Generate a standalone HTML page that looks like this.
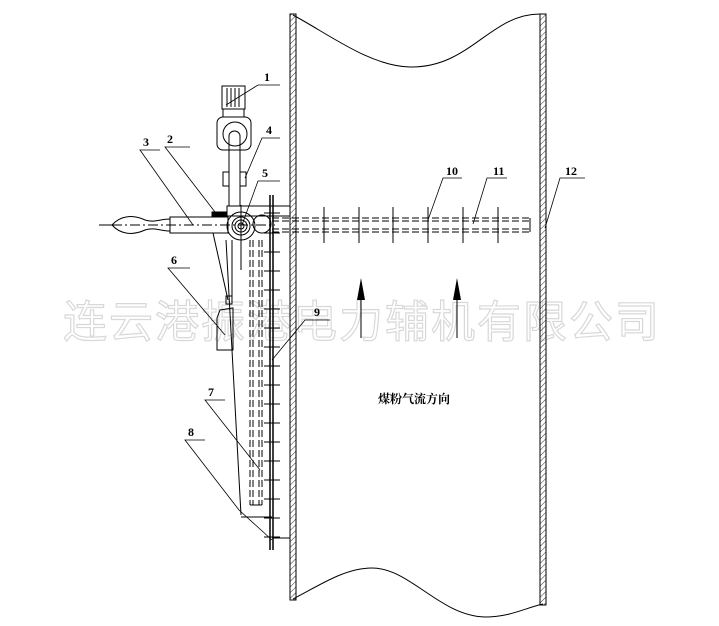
<!DOCTYPE html>
<html><head><meta charset="utf-8"><style>
html,body{margin:0;padding:0;background:#fff;}
svg{display:block;}
.l{font-family:"Liberation Serif",serif;font-weight:bold;font-size:12px;fill:#000;}
</style></head><body>
<svg width="719" height="626" viewBox="0 0 719 626" xmlns="http://www.w3.org/2000/svg">
<defs>
<pattern id="h" width="4" height="4" patternUnits="userSpaceOnUse" patternTransform="rotate(45)">
<line x1="0" y1="0" x2="0" y2="4" stroke="#000" stroke-width="0.8"/>
</pattern>
</defs>
<text x="362" y="337" text-anchor="middle" font-family="'Noto Sans CJK SC',sans-serif" font-size="44" fill="#fff" stroke="#d8d8d8" stroke-width="1.2" letter-spacing="2">连云港振港电力辅机有限公司</text>

<!-- walls -->
<rect x="290" y="14" width="6" height="586" fill="url(#h)" stroke="#000" stroke-width="1"/>
<rect x="540" y="14" width="6" height="591" fill="url(#h)" stroke="#000" stroke-width="1"/>
<path d="M293,15 C330,35 370,66 410,67 C470,68 490,14 540,14" fill="none" stroke="#000"/>
<path d="M293,599 C320,585 345,568 372,568 C410,568 440,616 485,617 C510,617 525,608 543,604" fill="none" stroke="#000"/>

<!-- flow arrows -->
<line x1="361" y1="295" x2="361" y2="338" stroke="#000"/>
<polygon points="361,278 357,300 365,300" fill="#000"/>
<line x1="457" y1="295" x2="457" y2="338" stroke="#000"/>
<polygon points="457,278 453,300 461,300" fill="#000"/>
<text x="414" y="403" text-anchor="middle" font-family="'Noto Serif CJK SC','Noto Sans CJK SC',serif" font-weight="bold" font-size="12">煤粉气流方向</text>

<g stroke="#000" fill="none" stroke-width="1">
<!-- horizontal dashed lance -->
<g stroke-dasharray="7,3">
<line x1="272" y1="218" x2="530" y2="218"/><line x1="272" y1="221" x2="530" y2="221"/>
<line x1="272" y1="229" x2="530" y2="229"/><line x1="272" y1="232" x2="530" y2="232"/>
</g>
<line x1="530" y1="218" x2="530" y2="232"/>
<g>
<line x1="324" y1="207" x2="324" y2="243"/><line x1="359" y1="207" x2="359" y2="243"/>
<line x1="393" y1="207" x2="393" y2="243"/><line x1="428" y1="207" x2="428" y2="243"/>
<line x1="463" y1="207" x2="463" y2="243"/><line x1="498" y1="207" x2="498" y2="243"/>
</g>

<!-- motor -->
<rect x="222" y="86" width="23" height="23"/>
<line x1="227" y1="88" x2="227" y2="107"/><line x1="231" y1="88" x2="231" y2="107"/>
<line x1="235" y1="88" x2="235" y2="107"/><line x1="239" y1="88" x2="239" y2="107"/>
<rect x="223" y="109" width="21" height="8"/>
<rect x="217" y="117" width="34" height="33" rx="6"/>
<circle cx="235" cy="134" r="12"/>
<line x1="229" y1="136" x2="229" y2="206"/><line x1="240" y1="136" x2="240" y2="206"/>
<path d="M229,136 A5.5,5 0 0 1 240,136"/>
<rect x="223" y="172" width="6" height="14"/><rect x="240" y="172" width="6" height="14"/>
<!-- body plate -->
<rect x="227" y="206" width="63" height="10"/>
<rect x="212" y="212" width="15" height="5" fill="#000"/>
<!-- handle -->
<line x1="99" y1="225" x2="112" y2="225"/>
<path d="M112,225 C120,216 132,214 145,220 C155,223 160,219 170,219 L170,231 C160,231 155,227 145,230 C132,236 120,234 112,225 Z"/>
<rect x="170" y="217" width="58" height="16"/>
<line x1="112" y1="225" x2="275" y2="225" stroke-dasharray="10,3,2,3"/>
<!-- valve -->
<circle cx="241" cy="226" r="14"/>
<circle cx="241" cy="226" r="9"/><circle cx="241" cy="226" r="6"/><circle cx="241" cy="226" r="3"/>
<circle cx="262" cy="224" r="9"/>
<line x1="241" y1="205" x2="241" y2="270"/>
<!-- slanted body -->
<line x1="213" y1="233" x2="228" y2="300"/>
<line x1="226" y1="240" x2="241" y2="515"/>
<line x1="232" y1="240" x2="232" y2="300"/>
<rect x="226" y="296" width="6" height="8"/>
<path d="M217,318 L220,310 L233,308 L233,350 L217,350 Z"/>
<line x1="241" y1="517" x2="272" y2="517"/>
<line x1="272" y1="538" x2="290" y2="538"/>
<!-- vertical dashed tube -->
<g stroke-dasharray="7,3">
<line x1="250" y1="240" x2="250" y2="505"/><line x1="253" y1="240" x2="253" y2="505"/>
<line x1="259" y1="240" x2="259" y2="505"/><line x1="262" y1="240" x2="262" y2="505"/>
</g>
<line x1="250" y1="505" x2="262" y2="505"/>
<!-- rail -->
<line x1="270" y1="195" x2="270" y2="550" stroke-width="1.5"/>
<line x1="273" y1="195" x2="273" y2="550" stroke-width="1.5"/>
</g>
<g stroke="#000" stroke-width="1">
<line x1="264" y1="213" x2="280" y2="213"/><line x1="264" y1="233" x2="280" y2="233"/>
<line x1="264" y1="252" x2="280" y2="252"/><line x1="264" y1="271" x2="280" y2="271"/>
<line x1="264" y1="290" x2="280" y2="290"/><line x1="264" y1="309" x2="280" y2="309"/>
<line x1="264" y1="328" x2="280" y2="328"/><line x1="264" y1="347" x2="280" y2="347"/>
<line x1="264" y1="366" x2="280" y2="366"/><line x1="264" y1="385" x2="280" y2="385"/>
<line x1="264" y1="404" x2="280" y2="404"/><line x1="264" y1="423" x2="280" y2="423"/>
<line x1="264" y1="442" x2="280" y2="442"/><line x1="264" y1="461" x2="280" y2="461"/>
<line x1="264" y1="480" x2="280" y2="480"/><line x1="264" y1="499" x2="280" y2="499"/>
<line x1="264" y1="518" x2="280" y2="518"/><line x1="264" y1="537" x2="280" y2="537"/>
</g>

<!-- labels -->
<g stroke="#000" stroke-width="0.8" fill="none">
<polyline points="280,85 258,85 226,105"/>
<polyline points="190,147 165,147 215,212"/>
<polyline points="160,150 140,150 193,225"/>
<polyline points="280,138 262,138 245,178"/>
<polyline points="280,181 258,181 242,225"/>
<polyline points="190,268 168,268 225,335"/>
<polyline points="225,400 205,400 260,470"/>
<polyline points="205,440 185,440 239,510 272,540"/>
<polyline points="330,320 305,320 272,360"/>
<polyline points="462,178 443,178 428,220"/>
<polyline points="507,178 487,178 473,224"/>
<polyline points="585,178 560,178 545,228"/>
</g>
<text class="l" x="264" y="81">1</text>
<text class="l" x="167" y="143">2</text>
<text class="l" x="143" y="146">3</text>
<text class="l" x="266" y="134">4</text>
<text class="l" x="262" y="177">5</text>
<text class="l" x="171" y="264">6</text>
<text class="l" x="208" y="396">7</text>
<text class="l" x="188" y="436">8</text>
<text class="l" x="314" y="316">9</text>
<text class="l" x="446" y="175">10</text>
<text class="l" x="493" y="175">11</text>
<text class="l" x="565" y="175">12</text>
</svg>
</body></html>
